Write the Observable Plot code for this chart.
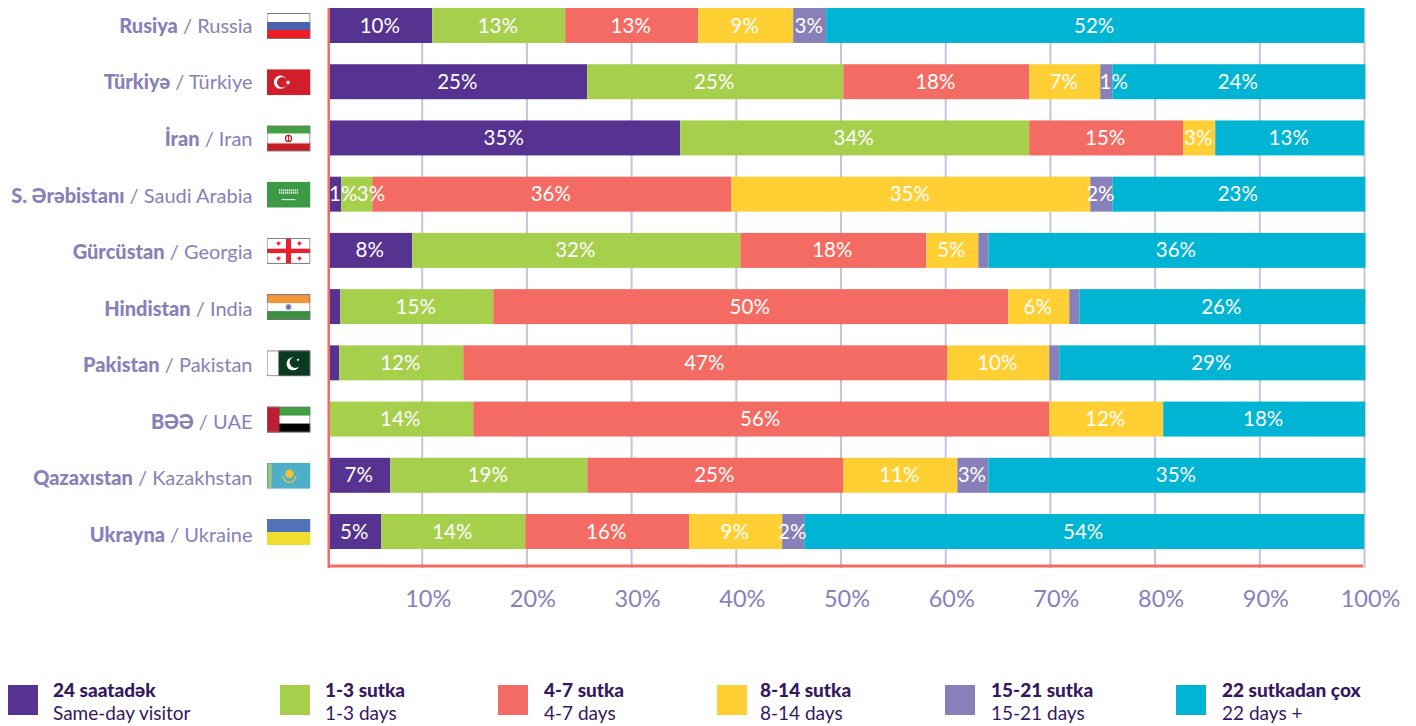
<!DOCTYPE html>
<html><head><meta charset="utf-8">
<script src="https://cdn.jsdelivr.net/npm/d3@7"></script>
<script src="https://cdn.jsdelivr.net/npm/@observablehq/plot@0.6"></script>
<style>
html,body{margin:0;padding:0;background:#fff;overflow:hidden}
#root{position:relative;width:1416px;height:726px;font-family:Lato,sans-serif}
#root svg{display:block}
.lg{position:absolute;top:685px;height:38px}
.sw{position:absolute;left:0;top:0;width:30px;height:30px}
.tx{position:absolute;top:-7px;white-space:nowrap;font-size:19px;line-height:23px;color:#35185f}
.tx b{font-weight:900;display:block}
</style></head><body><div id="root"></div>
<script>
const countriesAz=["Rusiya","Türkiyə","İran","S. Ərəbistanı","Gürcüstan","Hindistan","Pakistan","BƏƏ","Qazaxıstan","Ukrayna"];
const countriesEn=["Russia","Türkiye","Iran","Saudi Arabia","Georgia","India","Pakistan","UAE","Kazakhstan","Ukraine"];
const seriesAz=["24 saatadək","1-3 sutka","4-7 sutka","8-14 sutka","15-21 sutka","22 sutkadan çox"];
const seriesEn=["Same-day visitor","1-3 days","4-7 days","8-14 days","15-21 days","22 days +"];
const seriesColors=["#563291","#a6cf4c","#f46b63","#ffcf33","#8880b9","#00b5d3"];
// segment lengths, in units of the percent axis
const sameDay=[9.84,24.64,33.52,1.15,7.93,1.05,0.96,0,5.83,4.97];
const days1to3=[12.70,24.45,33.33,2.96,31.33,14.61,11.84,13.75,18.82,13.75];
const days4to7=[12.70,17.77,14.71,34.29,17.77,49.19,46.23,55.01,24.45,15.66];
const days8to14=[9.07,6.78,3.06,34.29,4.97,5.83,9.74,10.89,10.89,8.88];
const days15to21=[3.15,1.15,0,2.10,0.96,0.96,0.96,0,2.96,2.10];
const days22plus=[51.38,24.16,14.23,24.16,36.01,27.32,29.23,19.29,36.01,53.49];
// printed labels
const labelsSameDay=["10%","25%","35%","1%","8%",null,null,null,"7%","5%"];
const labels1to3=["13%","25%","34%","3%","32%","15%","12%","14%","19%","14%"];
const labels4to7=["13%","18%","15%","36%","18%","50%","47%","56%","25%","16%"];
const labels8to14=["9%","7%","3%","35%","5%","6%","10%","12%","11%","9%"];
const labels15to21=["3%","1%",null,"2%",null,null,null,null,"3%","2%"];
const labels22plus=["52%","24%","13%","23%","36%","26%","29%","18%","35%","54%"];
const axisTicks=[10,20,30,40,50,60,70,80,90,100];
const barStart=1.17;

const b='<rect x=".5" y=".5" width="43" height="25" fill="none" stroke="#777" stroke-width="1"/>';
const flagSvgs=[
 '<rect width="44" height="26" fill="#fff"/><rect y="9" width="44" height="8" fill="#4a61ad"/><rect y="17" width="44" height="9" fill="#ee1c25"/>'+b,
 '<rect width="44" height="26" fill="#d01f2a"/><circle cx="14" cy="13" r="6.6" fill="#fff"/><circle cx="15.800" cy="13" r="5.300" fill="#d01f2a"/><path d="M21.5 10.6l.7 1.8 1.9.1-1.5 1.2.5 1.9-1.6-1.1-1.6 1.1.5-1.9-1.5-1.2 1.9-.1z" fill="#fff"/>',
 '<rect width="44" height="26" fill="#fff"/><rect width="44" height="8.5" fill="#429f44"/><rect y="17.5" width="44" height="8.5" fill="#c21f26"/><rect x="1" y="8" width="42" height="1" fill="#fff" stroke="#9cc79c" stroke-width=".4" stroke-dasharray="1 1"/><rect x="1" y="17" width="42" height="1" fill="#fff" stroke="#dc8f8f" stroke-width=".4" stroke-dasharray="1 1"/><circle cx="22" cy="13" r="3" fill="none" stroke="#c21f26" stroke-width="1.3"/><rect x="21.5" y="9.8" width="1" height="6.4" fill="#c21f26"/>'+b,
 '<rect width="44" height="26" fill="#3c9a47"/><path d="M12.5 8.5h19M12.5 11h19" stroke="#fff" stroke-width="2" stroke-dasharray="1.2 .8" opacity=".85"/><path d="M15 18h14" stroke="#fff" stroke-width=".9"/>',
 '<rect width="44" height="26" fill="#fff"/><rect x="19.5" width="5" height="26" fill="#e8202e"/><rect y="10.8" width="44" height="4.4" fill="#e8202e"/><path d="M10 5.5h4M12 3.5v4M31 5.5h4M33 3.5v4M10 20.5h4M12 18.5v4M31 20.5h4M33 18.5v4" stroke="#e8202e" stroke-width="1.6"/>'+b,
 '<rect width="44" height="26" fill="#fff"/><rect width="44" height="9" fill="#f39539"/><rect y="17" width="44" height="9" fill="#3f8f41"/><circle cx="22" cy="13" r="3" fill="#8f94c4"/><circle cx="22" cy="13" r="1.4" fill="#5d62a6"/>'+b,
 '<rect width="44" height="26" fill="#fff"/><rect x="12" width="32" height="26" fill="#0a3b22"/><circle cx="26.5" cy="13.5" r="6.5" fill="#fff"/><circle cx="28.7" cy="12" r="5.6" fill="#0a3b22"/><circle cx="31.5" cy="9.5" r="1.1" fill="#fff"/>'+b,
 '<rect width="44" height="26" fill="#fff"/><rect width="44" height="9" fill="#429f44"/><rect y="17" width="44" height="9" fill="#000"/><rect width="13" height="26" fill="#bd1e34"/>'+b,
 '<rect width="44" height="26" fill="#4eb0c8"/><rect x="2" y="1" width="3" height="24" fill="#b9c46a"/><circle cx="23" cy="11" r="4.2" fill="#f4c430"/><path d="M16.5 13c1 5 4 6.5 6.5 6.5s5.500-1.500 6.500-6.500" fill="none" stroke="#d9c24a" stroke-width="1.600"/>',
 '<rect width="44" height="13" fill="#4f72b8"/><rect y="13" width="44" height="13" fill="#f0de2e"/>'
];
const flagSrc=flagSvgs.map(s=>"data:image/svg+xml;utf8,"+encodeURIComponent('<svg xmlns="http://www.w3.org/2000/svg" viewBox="0 0 44 26" width="44" height="26">'+s+'</svg>'));

const seriesValues=[sameDay,days1to3,days4to7,days8to14,days15to21,days22plus];
const seriesLabels=[labelsSameDay,labels1to3,labels4to7,labels8to14,labels15to21,labels22plus];
// labels that the original nudges right because their segment is too narrow
const labelShift={"Türkiyə|4":0.8,"S. Ərəbistanı|0":0.85,"S. Ərəbistanı|1":1.45};

const segments=[];
countriesAz.forEach((c,i)=>{
  let x=barStart;
  seriesValues.forEach((vals,s)=>{
    const v=vals[i];
    segments.push({country:c,series:seriesAz[s],x1:x,x2:x+v,label:seriesLabels[s][i],lx:x+v/2+(labelShift[c+"|"+s]||0)});
    x+=v;
  });
});
const rows=countriesAz.map((c,i)=>({az:c,en:countriesEn[i],name:c+" / "+countriesEn[i],flag:flagSrc[i]}));
const lastCountry=countriesAz[countriesAz.length-1];

function twoTone(index,scales,values,dims,ctx,next){
  const g=next(index,scales,values,dims,ctx);
  d3.select(g).selectAll("text").each(function(d,i){
    const t=this.textContent, k=t.indexOf(" / ");
    const sel=d3.select(this); sel.text(null);
    // the labels run on a slightly wider pitch than the bars
    sel.append("tspan").attr("dy",0.5+i*0.33).attr("font-weight",900).text(t.slice(0,k));
    sel.append("tspan").attr("font-weight",400).text(t.slice(k));
  });
  return g;
}

const plot=Plot.plot({
  width:1416,height:660,
  marginLeft:317,marginRight:52,marginTop:8,marginBottom:92,
  style:{fontFamily:"Lato,sans-serif",background:"#fff"},
  x:{domain:[0,100],axis:null},
  y:{type:"band",domain:countriesAz,range:[8,549],paddingInner:0.378,paddingOuter:0,round:false,axis:null},
  color:{domain:seriesAz,range:seriesColors},
  marks:[
    Plot.ruleX(axisTicks,{stroke:"#c6c2e0",strokeWidth:2}),
    Plot.barX(segments.filter(d=>d.x2>d.x1),{x1:"x1",x2:"x2",y:"country",fill:"series"}),
    Plot.ruleX([barStart],{stroke:"#f46b63",strokeWidth:2.5,dx:-1}),
    Plot.ruleY([lastCountry],{y:d=>d,x1:barStart,x2:100,stroke:"#f46b63",strokeWidth:3,dy:34,dx:-1}),
    Plot.text(segments.filter(d=>d.label),{x:"lx",y:"country",text:"label",fill:"#fff",fontSize:20.5,dy:0,dx:-1.5}),
    Plot.text(rows,{y:"az",text:"name",frameAnchor:"left",textAnchor:"end",dx:-65,fill:"#8880b9",fontSize:20,render:twoTone}),
    Plot.image(rows,{y:"az",src:"flag",frameAnchor:"left",dx:-29,width:44,height:26}),
    Plot.axisX(axisTicks,{anchor:"bottom",tickSize:0,tickPadding:22,tickFormat:d=>d+"%",label:null,fontSize:23.5,fill:"#8880b9",dx:6})
  ]
});
const root=document.getElementById("root");
root.appendChild(plot);
const legendLeft=[8,280,498,717,945,1176];
const legendTextLeft=[45,45,46,43,46,46];
seriesAz.forEach((s,i)=>{
  const d=document.createElement("div");d.className="lg";d.style.left=legendLeft[i]+"px";
  d.innerHTML='<div class="sw" style="background:'+seriesColors[i]+'"></div><div class="tx" style="left:'+legendTextLeft[i]+'px"><b>'+s+'</b>'+seriesEn[i]+'</div>';
  root.appendChild(d);
});
</script></body></html>
